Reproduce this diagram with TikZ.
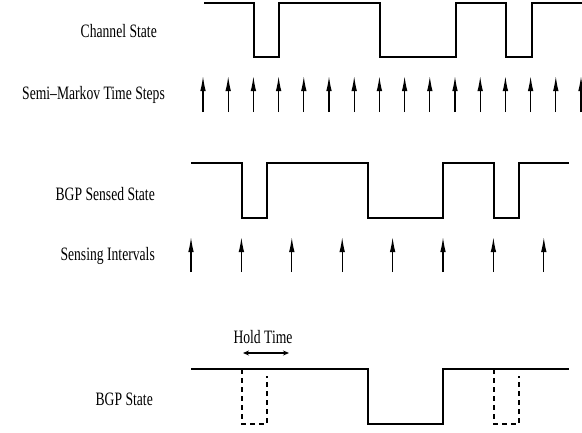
\documentclass[tikz,border=0pt]{standalone}
\usepackage{fontspec}
\usepackage{graphicx}
\setmainfont{Liberation Serif}
\usetikzlibrary{arrows.meta}
\newcommand{\lbltxt}[1]{\scalebox{0.72}[1]{#1}}
\tikzset{
  lbl/.style={inner sep=0pt, anchor=east, font=\fontsize{19}{19}\selectfont},
  wave/.style={line width=1.3bp, line join=miter},
  tick/.style={line width=1.2bp, -{Latex[length=15bp,width=5.5bp]}},
  ghost/.style={line width=1.1bp, dash pattern=on 5bp off 4bp},
  hold/.style={line width=1.1bp, {Stealth[length=6bp,width=5bp]}-{Stealth[length=6bp,width=5bp]}}
}
\begin{document}
\begin{tikzpicture}[x=1bp,y=-1bp]
\useasboundingbox (0,0) rectangle (582,432);
% labels
\node[lbl] (ch) at (157,31.5) {\lbltxt{Channel State}};
\node[lbl] (sm) at (165,95) {\lbltxt{Semi--Markov Time Steps}};
\node[lbl] (bs) at (155,194) {\lbltxt{BGP Sensed State}};
\node[lbl] (si) at (155,256) {\lbltxt{Sensing Intervals}};
\node[lbl] (bg) at (153,399) {\lbltxt{BGP State}};
\node[inner sep=0pt, font=\fontsize{19}{19}\selectfont] (ht) at (263,337) {\lbltxt{Hold Time}};
% channel state
\draw[wave] (204,3) -- (254,3) -- (254,57) -- (279,57) -- (279,3) -- (380,3) -- (380,57) -- (456,57) -- (456,3) -- (506,3) -- (506,57) -- (532,57) -- (532,3) -- (582,3);
% semi-markov time steps
\foreach \k in {0,...,15} {
  \draw[tick] ({203+25.2*\k},112) -- ({203+25.2*\k},76);
}
% BGP sensed state
\draw[wave] (191,163) -- (242,163) -- (242,218) -- (267,218) -- (267,163) -- (368,163) -- (368,218) -- (443,218) -- (443,163) -- (494,163) -- (494,218) -- (519,218) -- (519,163) -- (569,163);
% sensing intervals
\foreach \k in {0,...,7} {
  \draw[tick] ({191+50.4*\k},272) -- ({191+50.4*\k},237);
}
% hold time
\coordinate (h1) at (243,353);
\coordinate (h2) at (289,353);
\draw[hold] (h1) -- (h2);
% BGP state
\draw[wave] (191,369) -- (368,369) -- (368,424) -- (443,424) -- (443,369) -- (569,369);
\draw[ghost] (242,369) -- (242,424) -- (267,424) -- (267,376);
\draw[ghost] (494,369) -- (494,424) -- (519,424) -- (519,376);
\end{tikzpicture}
\end{document}
